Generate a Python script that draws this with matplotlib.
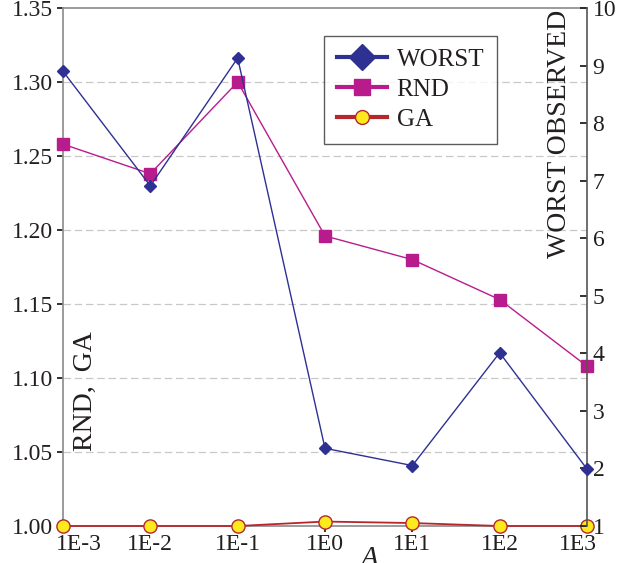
import matplotlib.pyplot as plt
import matplotlib.transforms as mtrans
import numpy as np

plt.rcParams['font.family'] = ['Liberation Serif', 'DejaVu Serif']

# values of the parameter A (log scale, shown as categories)
a_labels = ['1E-3', '1E-2', '1E-1', '1E0', '1E1', '1E2', '1E3']

# left axis series
rnd = [1.258, 1.238, 1.300, 1.196, 1.180, 1.153, 1.108]
ga = [1.000, 1.000, 1.000, 1.003, 1.002, 1.000, 1.000]

# right axis series
worst = [8.90, 6.91, 9.13, 2.35, 2.05, 4.01, 1.99]

c_worst = '#2e3192'
c_rnd = '#b81c8c'
c_ga = '#b5272d'
c_ga_face = '#fdea1c'
c_text = '#231f20'

x = np.arange(len(a_labels))

fig = plt.figure(figsize=(6.18, 5.63), dpi=100)
ax = fig.add_axes([63/618, 1-526/563, (587-63)/618, (526-8)/563])
ax2 = ax.twinx()

# left axis: RND and GA
ax.plot(x, rnd, color=c_rnd, lw=1.0, marker='s', ms=9, mec=c_rnd, mfc=c_rnd,
        label='RND', zorder=3, clip_on=False)
ax.plot(x, ga, color=c_ga, lw=1.3, marker='o', ms=9.5, mfc=c_ga_face, mec=c_ga,
        mew=1.0, label='GA', zorder=4, clip_on=False)

# right axis: WORST
ax2.plot(x, worst, color=c_worst, lw=1.0, marker='D', ms=6.5, mec=c_worst,
         mfc=c_worst, label='WORST', zorder=3, clip_on=False)

ax.set_xlim(0, 6)
ax.set_ylim(1.0, 1.35)
ax.set_yticks(np.arange(1.0, 1.351, 0.05))
ax.set_yticklabels(['%.2f' % v for v in np.arange(1.0, 1.351, 0.05)])
ax.set_xticks(x)
ax.set_xticklabels(a_labels)
ax2.set_ylim(1, 10)
ax2.set_yticks(range(1, 11))

for yv in np.arange(1.05, 1.31, 0.05):
    ax.axhline(yv, color='#c8c8c8', lw=0.9, ls=(0, (6, 3)), zorder=1)

ax.tick_params(axis='y', direction='out', length=4, width=1.3, color='#222222',
               labelsize=17, labelcolor=c_text, pad=3)
ax.tick_params(axis='x', direction='out', length=4, width=1.3, color='#222222',
               labelsize=17, labelcolor=c_text, pad=2)
ax2.tick_params(axis='y', direction='in', length=5, width=1.3, color='#222222',
                labelsize=17, labelcolor=c_text, pad=4)

# nudge the end labels inward so they stay clear of the corners
xl = ax.get_xticklabels()
xl[0].set_transform(xl[0].get_transform() +
                    mtrans.ScaledTranslation(16/100, 0, fig.dpi_scale_trans))
xl[-1].set_transform(xl[-1].get_transform() +
                     mtrans.ScaledTranslation(-9/100, 0, fig.dpi_scale_trans))

for s in ['left', 'bottom', 'top']:
    ax.spines[s].set_color('#8a8a8a')
    ax.spines[s].set_linewidth(1.2)
ax2.spines['right'].set_color('#555555')
ax2.spines['right'].set_linewidth(1.2)
for s in ['left', 'bottom', 'top']:
    ax2.spines[s].set_visible(False)
ax.spines['right'].set_visible(False)

# axis titles placed inside the plotting area
fig.text(85/618, 1-391/563, 'RND,  GA', rotation=90, ha='center', va='center',
         fontsize=20, color=c_text)
fig.text(560/618, 1-134/563, 'WORST OBSERVED', rotation=90, ha='center',
         va='center', fontsize=20, color=c_text)
fig.text(369/618, 1-546/563, 'A', style='italic', ha='center', va='top',
         fontsize=21, color=c_text)

h2, l2 = ax2.get_legend_handles_labels()
h1, l1 = ax.get_legend_handles_labels()
leg = ax2.legend(h2 + h1, l2 + l1, loc='upper left',
                 bbox_to_anchor=((324-63)/524, 1-(36-8)/518),
                 fontsize=18, frameon=True, fancybox=False, edgecolor='#333333',
                 handlelength=2.0, handletextpad=0.4, labelspacing=0.3,
                 borderpad=0.5, borderaxespad=0)
leg.get_frame().set_linewidth(1.0)
leg.set_zorder(5)
for t in leg.get_texts():
    t.set_color(c_text)
for hd, ms in zip(leg.legend_handles, [13, 11, 10]):
    hd.set_linewidth(3)
    hd.set_markersize(ms)

fig.savefig('out.png', dpi=100)
